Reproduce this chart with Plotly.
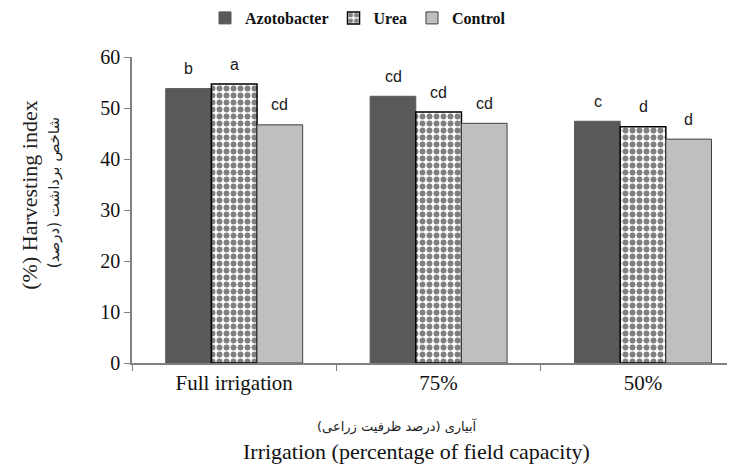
import plotly.graph_objects as go

categories = ["Full irrigation", "75%", "50%"]
azotobacter = [53.8, 52.3, 47.4]
urea = [54.7, 49.2, 46.3]
control = [46.7, 47.0, 43.9]
letters_azo = ["b", "cd", "c"]
letters_urea = ["a", "cd", "d"]
letters_ctrl = ["cd", "cd", "d"]
yticks = [0, 10, 20, 30, 40, 50, 60]

serif = "Liberation Serif, Times New Roman, serif"
sans = "Liberation Sans, Arial, sans-serif"

fig = go.Figure()
fig.add_trace(go.Bar(name="Azotobacter", x=categories, y=azotobacter,
                     marker=dict(color="#595959", line=dict(color="#595959", width=1))))
fig.add_trace(go.Bar(name="Urea", x=categories, y=urea,
                     marker=dict(color="white", line=dict(color="black", width=1.5),
                                 pattern=dict(shape=".", fgcolor="black", bgcolor="white",
                                              size=7, solidity=0.55))))
fig.add_trace(go.Bar(name="Control", x=categories, y=control,
                     marker=dict(color="#bfbfbf", line=dict(color="#404040", width=1))))

shifts = [-45.5, 0, 45.5]
for series, letters, sx in [(azotobacter, letters_azo, shifts[0]),
                            (urea, letters_urea, shifts[1]),
                            (control, letters_ctrl, shifts[2])]:
    for c, v, t in zip(categories, series, letters):
        fig.add_annotation(x=c, y=v, text=t, showarrow=False, xshift=sx, yshift=20,
                           xanchor="center", yanchor="middle",
                           font=dict(family=sans, size=16, color="#1a1a1a"))

fig.add_annotation(x=-0.169, y=0.547, xref="paper", yref="paper", text="(%) Harvesting index",
                   textangle=-90, showarrow=False, xanchor="center", yanchor="middle",
                   font=dict(family=serif, size=22, color="#222"))
fig.add_annotation(x=-0.13, y=0.557, xref="paper", yref="paper", text="شاخص برداشت (درصد)",
                   textangle=-90, showarrow=False, xanchor="center", yanchor="middle",
                   font=dict(family="DejaVu Sans, sans-serif", size=15, color="#222"))
fig.add_annotation(x=0.441, y=-0.208, xref="paper", yref="paper", text="آبیاری (درصد ظرفیت زراعی)",
                   showarrow=False, xanchor="center", yanchor="middle",
                   font=dict(family="DejaVu Sans, sans-serif", size=13, color="#222"))
fig.add_annotation(x=0.471, y=-0.29, xref="paper", yref="paper", text="Irrigation (percentage of field capacity)",
                   showarrow=False, xanchor="center", yanchor="middle",
                   font=dict(family=serif, size=22, color="#111"))

fig.update_layout(
    width=735, height=465,
    margin=dict(l=124, r=8, t=49, b=110, autoexpand=False),
    plot_bgcolor="white", paper_bgcolor="white",
    barmode="group", bargap=0.33, bargroupgap=0,
    showlegend=True,
    legend=dict(orientation="h", x=350 / 735, xref="container", xanchor="center",
                y=1 - 10 / 465, yref="container", yanchor="middle",
                font=dict(family=serif, size=16, color="#111", weight="bold"), itemwidth=30,
                traceorder="normal"),
    font=dict(family=serif, color="#222"),
)
fig.update_xaxes(range=[-0.5, 2.45], showline=True, linecolor="#808080", linewidth=1.5, ticks="outside",
                 tickson="boundaries", ticklen=6, tickcolor="#808080",
                 tickfont=dict(family=serif, size=21, color="#111"), showgrid=False)
fig.update_yaxes(range=[0, 60], tickvals=yticks, showline=True, linecolor="#808080", linewidth=1.5,
                 ticks="outside", ticklen=6, tickcolor="#808080", showgrid=False,
                 tickfont=dict(family=serif, size=20, color="#111"), zeroline=False)

fig.write_html("out.html")
